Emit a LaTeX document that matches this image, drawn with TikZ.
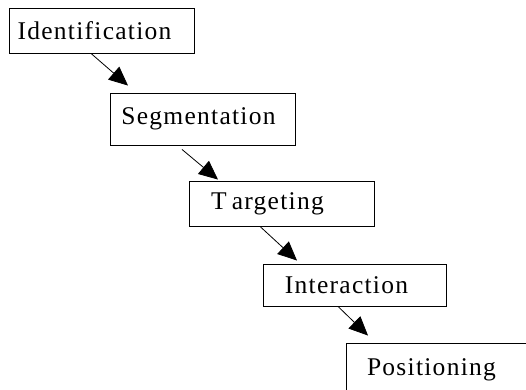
\documentclass[tikz,border=0pt]{standalone}
\usepackage{fontspec}
\setmainfont{Liberation Serif}[LetterSpace=5]
\usetikzlibrary{arrows.meta}
\begin{document}
\begin{tikzpicture}[x=1pt,y=1pt,
  stage/.style={draw=black,line width=0.9pt,rectangle,inner sep=0pt,font=\fontsize{25.5}{30}\selectfont},
  leftby/.style={execute at end node={\hspace*{#1}}},
  arr/.style={line width=0.8pt,-{Triangle[length=19pt,width=17pt]}}]
\clip (0,0) rectangle (526,389);
\node[stage,minimum width=185pt,minimum height=45pt,leftby=14pt] (a) at (101.5,358.5) {Identification};
\node[stage,minimum width=185pt,minimum height=52pt,leftby=8pt] (b) at (202.5,270) {Segmentation};
\node[stage,minimum width=185pt,minimum height=45pt,leftby=28pt] (c) at (281.5,185.5) {T\kern5pt argeting};
\node[stage,minimum width=183pt,minimum height=42pt,leftby=16pt] (d) at (354.5,104) {Interaction};
\node[stage,minimum width=217pt,minimum height=54pt,text width=175pt,align=left,inner xsep=21pt] (e) at (454.5,19) {Positioning};
\draw[arr] ([xshift=-10.5pt]a.south) -- ([xshift=-74.5pt,yshift=7pt]b.north);
\draw[arr] ([xshift=-20.5pt,yshift=-4pt]b.south) -- ([xshift=-63.5pt,yshift=1pt]c.north);
\draw[arr] ([xshift=-21.5pt]c.south) -- ([xshift=-57.5pt,yshift=3pt]d.north);
\draw[arr] ([xshift=-16.5pt]d.south) -- ([xshift=-86.5pt,yshift=7pt]e.north);
\end{tikzpicture}
\end{document}
